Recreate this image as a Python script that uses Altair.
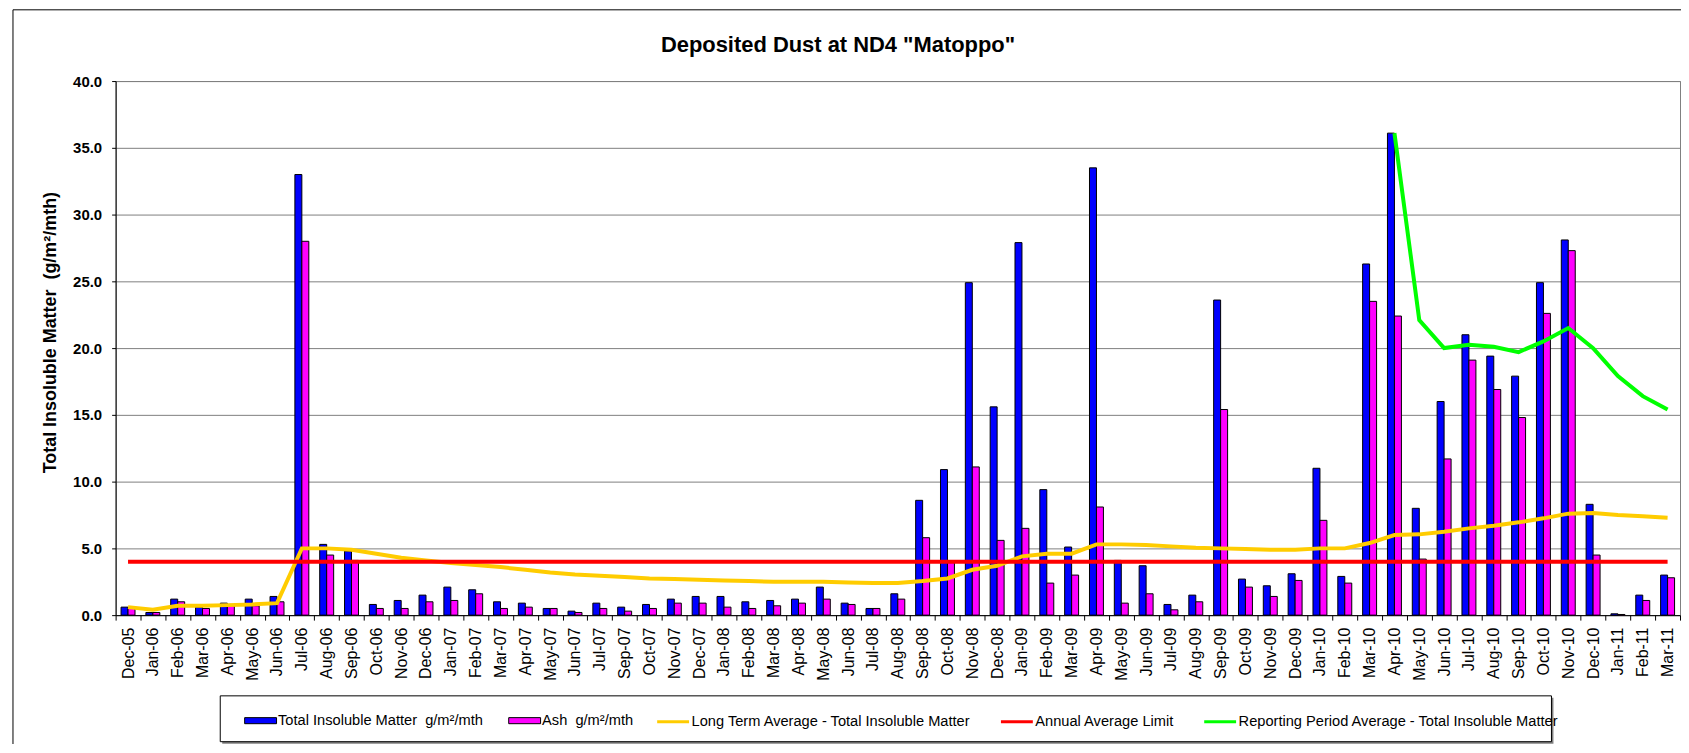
import altair as alt
import pandas as pd

FONT = "Liberation Sans"

months = [
    "Dec-05",
    "Jan-06", "Feb-06", "Mar-06", "Apr-06", "May-06", "Jun-06",
    "Jul-06", "Aug-06", "Sep-06", "Oct-06", "Nov-06", "Dec-06",
    "Jan-07", "Feb-07", "Mar-07", "Apr-07", "May-07", "Jun-07",
    "Jul-07", "Sep-07", "Oct-07", "Nov-07", "Dec-07",
    "Jan-08", "Feb-08", "Mar-08", "Apr-08", "May-08", "Jun-08",
    "Jul-08", "Aug-08", "Sep-08", "Oct-08", "Nov-08", "Dec-08",
    "Jan-09", "Feb-09", "Mar-09", "Apr-09", "May-09", "Jun-09",
    "Jul-09", "Aug-09", "Sep-09", "Oct-09", "Nov-09", "Dec-09",
    "Jan-10", "Feb-10", "Mar-10", "Apr-10", "May-10", "Jun-10",
    "Jul-10", "Aug-10", "Sep-10", "Oct-10", "Nov-10", "Dec-10",
    "Jan-11", "Feb-11", "Mar-11",
]

total_insoluble = [
    0.6,
    0.2, 1.2, 0.6, 0.9, 1.2, 1.4,
    33.0, 5.3, 4.8, 0.8, 1.1, 1.5,
    2.1, 1.9, 1.0, 0.9, 0.5, 0.3,
    0.9, 0.6, 0.8, 1.2, 1.4,
    1.4, 1.0, 1.1, 1.2, 2.1, 0.9,
    0.5, 1.6, 8.6, 10.9, 24.9, 15.6,
    27.9, 9.4, 5.1, 33.5, 4.1, 3.7,
    0.8, 1.5, 23.6, 2.7, 2.2, 3.1,
    11.0, 2.9, 26.3, 36.1, 8.0, 16.0,
    21.0, 19.4, 17.9, 24.9, 28.1, 8.3,
    0.1, 1.5, 3.0,
]

ash = [
    0.5,
    0.2, 1.0, 0.5, 0.8, 0.7, 1.0,
    28.0, 4.5, 4.1, 0.5, 0.5, 1.0,
    1.1, 1.6, 0.5, 0.6, 0.5, 0.2,
    0.5, 0.3, 0.5, 0.9, 0.9,
    0.6, 0.5, 0.7, 0.9, 1.2, 0.8,
    0.5, 1.2, 5.8, 4.0, 11.1, 5.6,
    6.5, 2.4, 3.0, 8.1, 0.9, 1.6,
    0.4, 1.0, 15.4, 2.1, 1.4, 2.6,
    7.1, 2.4, 23.5, 22.4, 4.2, 11.7,
    19.1, 16.9, 14.8, 22.6, 27.3, 4.5,
    0.05, 1.1, 2.8,
]

long_term_avg = [
    0.6,
    0.4, 0.7, 0.7, 0.75, 0.8, 0.9,
    5.0, 5.0, 4.9, 4.6, 4.3, 4.1,
    3.9, 3.75, 3.6, 3.4, 3.2, 3.05,
    2.95, 2.85, 2.75, 2.7, 2.65,
    2.6, 2.55, 2.5, 2.5, 2.5, 2.45,
    2.4, 2.4, 2.55, 2.75, 3.4, 3.7,
    4.4, 4.6, 4.6, 5.3, 5.3, 5.25,
    5.15, 5.05, 5.0, 4.95, 4.9, 4.9,
    5.0, 5.0, 5.4, 6.0, 6.05, 6.25,
    6.5, 6.7, 6.95, 7.25, 7.6, 7.65,
    7.5, 7.4, 7.3,
]

annual_limit = [
    4.0,
    4.0, 4.0, 4.0, 4.0, 4.0, 4.0,
    4.0, 4.0, 4.0, 4.0, 4.0, 4.0,
    4.0, 4.0, 4.0, 4.0, 4.0, 4.0,
    4.0, 4.0, 4.0, 4.0, 4.0,
    4.0, 4.0, 4.0, 4.0, 4.0, 4.0,
    4.0, 4.0, 4.0, 4.0, 4.0, 4.0,
    4.0, 4.0, 4.0, 4.0, 4.0, 4.0,
    4.0, 4.0, 4.0, 4.0, 4.0, 4.0,
    4.0, 4.0, 4.0, 4.0, 4.0, 4.0,
    4.0, 4.0, 4.0, 4.0, 4.0, 4.0,
    4.0, 4.0, 4.0,
]

reporting_months = [
    "Apr-10", "May-10", "Jun-10", "Jul-10", "Aug-10", "Sep-10",
    "Oct-10", "Nov-10", "Dec-10", "Jan-11", "Feb-11", "Mar-11",
]
reporting_avg = [36.1, 22.1, 20.0, 20.25, 20.1, 19.7, 20.5, 21.5, 20.0, 17.9, 16.4, 15.4]

# (a no-break space keeps the double spacing of the original labels)
S_TOTAL = "Total Insoluble Matter\u00a0 g/m²/mth"
S_ASH = "Ash\u00a0 g/m²/mth"
S_LT = "Long Term Average - Total Insoluble Matter"
S_LIM = "Annual Average Limit"
S_RP = "Reporting Period Average - Total Insoluble Matter"

y_ticks = [0, 5, 10, 15, 20, 25, 30, 35, 40]
TITLE = 'Deposited Dust at ND4 "Matoppo"'
Y_TITLE = "Total Insoluble Matter\u00a0 (g/m²/mth)"

# ---- tables built from the arrays ----
bar_rows = []
for m, t, a in zip(months, total_insoluble, ash):
    bar_rows.append({"month": m, "bar_series": S_TOTAL, "value": t})
    bar_rows.append({"month": m, "bar_series": S_ASH, "value": a})
bar_df = pd.DataFrame(bar_rows)

line_rows = []
for m, v in zip(months, long_term_avg):
    line_rows.append({"month": m, "line_series": S_LT, "value": v})
for m, v in zip(months, annual_limit):
    line_rows.append({"month": m, "line_series": S_LIM, "value": v})
for m, v in zip(reporting_months, reporting_avg):
    line_rows.append({"month": m, "line_series": S_RP, "value": v})
line_df = pd.DataFrame(line_rows)

W, H = 1570, 536

x_enc = alt.X(
    "month:N",
    sort=months,
    scale=alt.Scale(domain=months, paddingInner=0, paddingOuter=0),
    axis=alt.Axis(
        title=None,
        labelAngle=-90,
        labelFont=FONT,
        labelFontSize=16,
        labelColor="black",
        labelPadding=7,
        labelOverlap=False,
        tickBand="extent",
        tickSize=5,
        tickColor="black",
        domainColor="black",
        grid=False,
    ),
)

y_enc = alt.Y(
    "value:Q",
    scale=alt.Scale(domain=[0, 40], nice=False, zero=True),
    axis=alt.Axis(
        title=Y_TITLE,
        titleFont=FONT,
        titleFontSize=18,
        titleFontWeight="bold",
        titleColor="black",
        titleX=-56,
        titleY=252,
        values=y_ticks,
        format=".1f",
        labelFont=FONT,
        labelFontSize=15,
        labelFontWeight="bold",
        labelColor="black",
        labelPadding=10,
        tickSize=4,
        tickColor="black",
        domainColor="black",
        grid=True,
        gridColor="#808080",
        gridWidth=1,
    ),
)

fill_legend = alt.Legend(
    orient="none",
    legendX=129,
    legendY=625,
    direction="horizontal",
    title=None,
    symbolType="M-1,-0.19H1V0.19H-1Z",
    symbolSize=1024,
    symbolStrokeColor="black",
    symbolStrokeWidth=1,
    labelFont=FONT,
    labelFontSize=14.7,
    labelColor="black",
    labelOffset=1,
    labelLimit=600,
    columnPadding=23,
    padding=0,
)

stroke_legend = alt.Legend(
    orient="none",
    legendX=542,
    legendY=625,
    direction="horizontal",
    title=None,
    symbolType="stroke",
    symbolSize=1024,
    symbolStrokeWidth=3,
    labelFont=FONT,
    labelFontSize=14.7,
    labelColor="black",
    labelOffset=1,
    labelLimit=600,
    columnPadding=23,
    padding=0,
)

one_row = pd.DataFrame({"k": [0]})

frame = alt.Chart(one_row).mark_rect(fillOpacity=0, stroke="black", strokeWidth=1).encode(
    x=alt.value(-103), x2=alt.value(W + 200), y=alt.value(-71.5), y2=alt.value(H + 400)
)

legend_shadow = alt.Chart(one_row).mark_rect(fill="#808080").encode(
    x=alt.value(107), x2=alt.value(1443), y=alt.value(619), y2=alt.value(665)
)
legend_box = alt.Chart(one_row).mark_rect(fill="white", stroke="black", strokeWidth=1).encode(
    x=alt.value(105), x2=alt.value(1441), y=alt.value(617), y2=alt.value(663)
)

bars = alt.Chart(bar_df).mark_bar(stroke="black", strokeWidth=1).encode(
    x=x_enc,
    xOffset=alt.XOffset(
        "bar_series:N",
        scale=alt.Scale(domain=[S_TOTAL, S_ASH], paddingOuter=0.78, paddingInner=0),
    ),
    y=y_enc,
    fill=alt.Fill(
        "bar_series:N",
        scale=alt.Scale(domain=[S_TOTAL, S_ASH], range=["#0000FF", "#FF00FF"]),
        legend=fill_legend,
    ),
)

lines = alt.Chart(line_df).mark_line(strokeWidth=4).encode(
    x=x_enc,
    y=y_enc,
    stroke=alt.Stroke(
        "line_series:N",
        scale=alt.Scale(domain=[S_LT, S_LIM, S_RP], range=["#FFCC00", "#FF0000", "#00FF00"]),
        legend=stroke_legend,
    ),
)

chart = (
    alt.layer(frame, legend_shadow, legend_box, bars, lines)
    .properties(
        width=W,
        height=H,
        title=alt.TitleParams(
            text=TITLE,
            font=FONT,
            fontSize=22,
            fontWeight="bold",
            color="black",
            anchor="middle",
            frame="group",
            dx=-60,
            dy=65,
            offset=0,
            baseline="alphabetic",
        ),
        autosize=alt.AutoSizeParams(type="none"),
        padding={"left": 108, "top": 72, "right": 1, "bottom": 128},
        background="white",
    )
    .configure_view(stroke="#808080", strokeWidth=1)
)

chart.save("out.html", embed_options={"renderer": "svg", "actions": False})
